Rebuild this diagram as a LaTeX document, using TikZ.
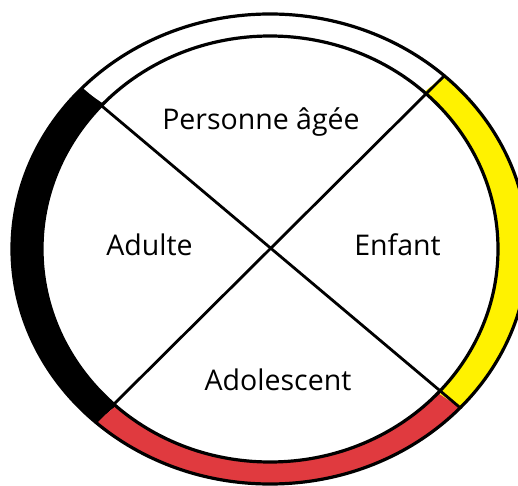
\documentclass[tikz,border=0pt]{standalone}
\usepackage{fontspec}
\setmainfont{Open Sans}
\definecolor{wheelyellow}{HTML}{FFF200}
\definecolor{wheelred}{HTML}{E03A3F}
\begin{document}
\begin{tikzpicture}[x=1pt,y=1pt,
  ring/.style={line width=3.2pt,draw=black},
  divider/.style={line width=2.8pt,draw=black},
  lab/.style={anchor=base,inner sep=0pt,font=\fontsize{28.5}{32}\selectfont}]
\useasboundingbox (0,0) rectangle (518,485);
\def\cx{270}\def\cy{236}
\def\ox{258}\def\oy{235}
\def\ix{228}\def\iy{213}
% segment fills
\foreach \a/\b/\c in {47.5/137/white, 137/227.5/black, 227.5/317.5/wheelred, -42.5/47.5/wheelyellow}{
  \fill[\c] ({\cx+\ox*cos(\a)},{\cy+\oy*sin(\a)})
    arc[start angle=\a,end angle=\b,x radius=\ox,y radius=\oy]
    -- ({\cx+\ix*cos(\b)},{\cy+\iy*sin(\b)})
    arc[start angle=\b,end angle=\a,x radius=\ix,y radius=\iy] -- cycle;
}
\coordinate (c) at (\cx,\cy);
\coordinate (oul) at ({\cx+\ox*cos(137)},{\cy+\oy*sin(137)});
\coordinate (our) at ({\cx+\ox*cos(47.5)},{\cy+\oy*sin(47.5)});
\coordinate (oll) at ({\cx+\ox*cos(227.5)},{\cy+\oy*sin(227.5)});
\coordinate (olr) at ({\cx+\ox*cos(317.5)},{\cy+\oy*sin(317.5)});
\draw[ring] (c) ellipse[x radius=\ox,y radius=\oy];
\draw[ring] (c) ellipse[x radius=\ix,y radius=\iy];
\draw[divider] (oul) -- (olr);
\draw[divider] (our) -- (oll);
\node[lab] (elder) at (261,355) {Personne âgée};
\node[lab] (adult) at (149.5,230) {Adulte};
\node[lab] (child) at (397.5,230) {Enfant};
\node[lab] (teen) at (278,95) {Adolescent};
\end{tikzpicture}
\end{document}
